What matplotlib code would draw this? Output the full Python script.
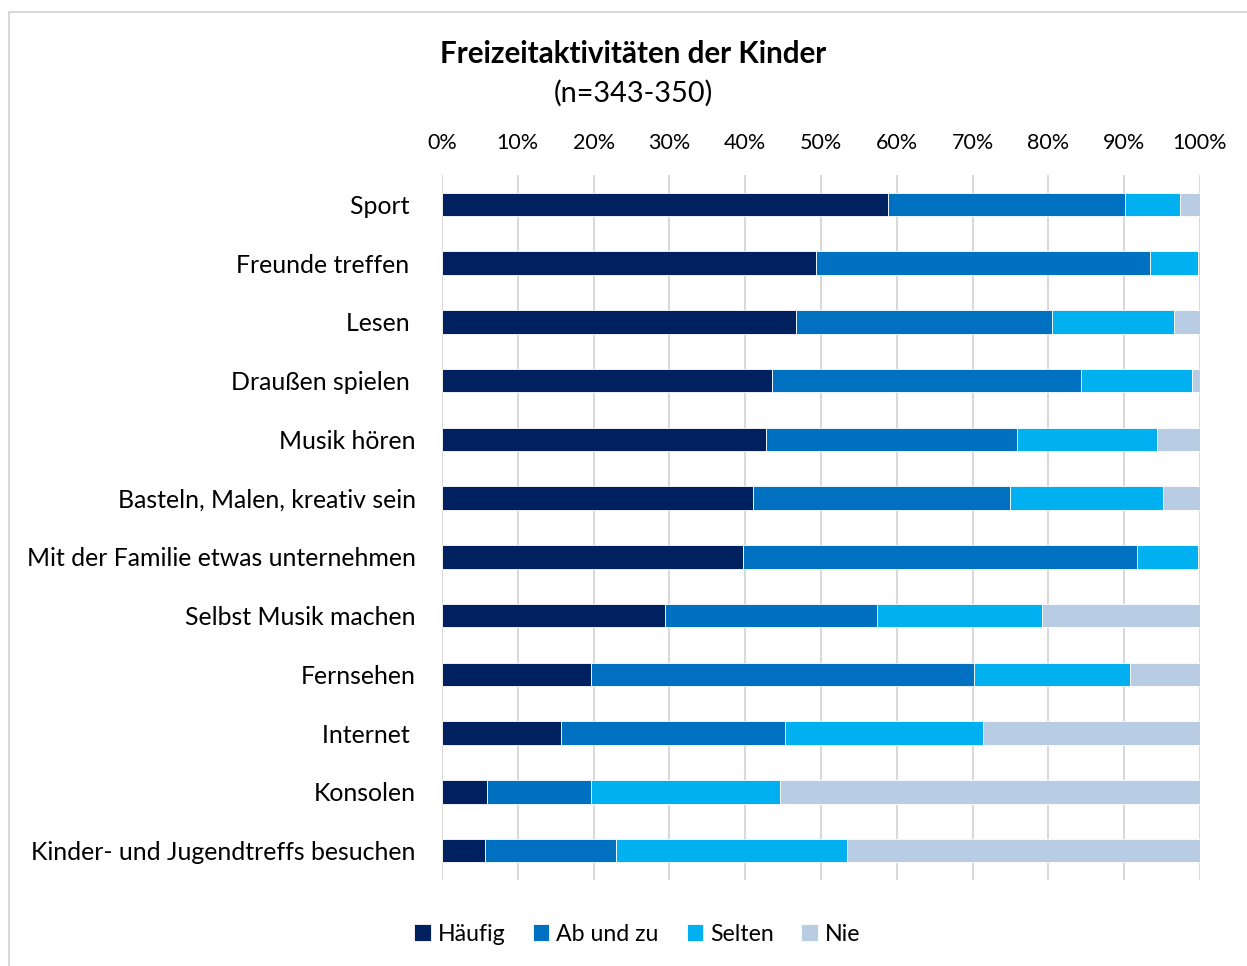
import numpy as np
import matplotlib.pyplot as plt
from matplotlib.lines import Line2D
from matplotlib.ticker import PercentFormatter

plt.rcParams['font.family'] = ['Lato', 'DejaVu Sans']

# categories from top to bottom
categories = [
    "Sport ",
    "Freunde treffen ",
    "Lesen ",
    "Draußen spielen ",
    "Musik hören",
    "Basteln, Malen, kreativ sein",
    "Mit der Familie etwas unternehmen",
    "Selbst Musik machen",
    "Fernsehen",
    "Internet ",
    "Konsolen",
    "Kinder- und Jugendtreffs besuchen",
]

# shares in percent
haeufig = [58.8, 49.3, 46.7, 43.5, 42.8, 41.0, 39.7, 29.4, 19.7, 15.7, 5.9, 5.7]
ab_und_zu = [31.3, 44.1, 33.8, 40.8, 33.0, 33.9, 52.0, 28.0, 50.5, 29.6, 13.8, 17.3]
selten = [7.3, 6.3, 16.1, 14.6, 18.5, 20.2, 8.0, 21.8, 20.6, 26.1, 24.9, 30.4]
nie = [2.6, 0.3, 3.4, 1.1, 5.7, 4.9, 0.3, 20.8, 9.2, 28.6, 55.4, 46.6]

series_names = ["Häufig", "Ab und zu", "Selten", "Nie"]
series_colors = ["#002060", "#0070C0", "#00B0F0", "#B8CCE4"]

fig = plt.figure(figsize=(12.47, 9.66), dpi=100)
ax = fig.add_axes([0.3545, 0.089, 0.6078, 0.7298])

# light border of the chart area (left and top visible)
fig.add_artist(Line2D([0.0075, 0.0075], [0, 0.988], transform=fig.transFigure,
                      color="#D9D9D9", lw=1.5))
fig.add_artist(Line2D([0.0075, 1], [0.988, 0.988], transform=fig.transFigure,
                      color="#D9D9D9", lw=1.5))

y = np.arange(len(categories))
left = np.zeros(len(categories))
for values, name, color in zip([haeufig, ab_und_zu, selten, nie],
                               series_names, series_colors):
    ax.barh(y, values, left=left, height=0.4, color=color, label=name,
            edgecolor="white", linewidth=0.6, zorder=3)
    left = left + np.array(values)

ax.set_xlim(0, 100)
ax.set_ylim(len(categories) - 0.5, -0.5)
ax.set_xticks(np.arange(0, 101, 10))
ax.xaxis.set_major_formatter(PercentFormatter(decimals=0))
ax.xaxis.tick_top()
ax.set_yticks(y)
ax.set_yticklabels(categories)
ax.tick_params(axis="x", length=0, pad=16, labelsize=15.5)
ax.tick_params(axis="y", length=0, pad=19, labelsize=17.9)
ax.grid(axis="x", color="#D9D9D9", linewidth=1.5, zorder=0)
for spine in ax.spines.values():
    spine.set_visible(False)

fig.text(0.508, 0.944, "Freizeitaktivitäten der Kinder", ha="center",
         va="center", fontsize=21.3, fontweight="bold")
fig.text(0.508, 0.903, "(n=343-350)", ha="center", va="center", fontsize=20.8)

fig.legend(loc="center", bbox_to_anchor=(0.511, 0.033), ncol=4,
           frameon=False, fontsize=16.7, handlelength=0.7, handleheight=0.7,
           handletextpad=0.3, columnspacing=1.2)

fig.savefig("out.png", dpi=100)
